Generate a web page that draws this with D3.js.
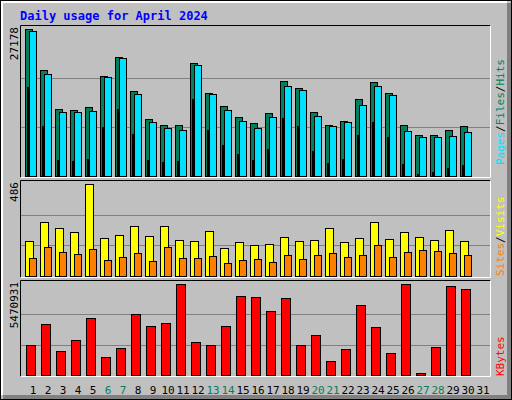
<!DOCTYPE html>
<html><head><meta charset="utf-8">
<script src="https://cdn.jsdelivr.net/npm/d3@7"></script>
<style>body{margin:0;background:#fff}svg{display:block}text{font-family:"DejaVu Sans Mono",monospace}</style>
</head><body><svg id="chart"></svg>
<script>
const days = d3.range(1, 32);
const weekends = [6, 7, 13, 14, 20, 21, 27, 28];
const hits = [27178,19543,12388,12203,12758,18490,22003,15716,10539,9430,9430,20893,15346,12943,10909,9800,11648,17565,16271,11833,9430,10169,14237,17380,15346,9430,7581,7581,8505,9245];
const files = [26810,18859,11833,11833,12018,18304,21817,15161,9984,8875,8505,20523,15161,12203,10169,8875,10909,16640,15901,11093,9245,9984,13127,16640,14976,8320,7211,7211,7396,8135];
const pages = [16455,9245,2958,2773,3143,9060,12388,7765,2958,2588,2773,14237,8505,5732,4068,2958,4992,10724,9245,4622,2404,3143,7581,9984,7211,2219,370,740,1479,2034];
const visits = [183,283,252,231,486,199,215,262,209,262,188,183,236,146,178,162,167,204,183,188,252,178,199,283,194,231,204,188,241,183];
const sites = [93,151,125,114,141,83,99,120,77,151,93,93,104,67,83,88,72,109,88,109,120,99,109,162,99,125,136,130,120,109];
const kbytes = [1803600,3066100,1442900,2104200,3426800,1082200,1623200,3667300,2945900,3126200,5470931,1984000,1803600,2945900,4749500,4689400,3847700,4629200,1803600,2404800,841700,1563100,4208400,2885800,1322600,5470931,120200,1683400,5350700,5170300];

const W = 512, H = 400;
const svg = d3.select('#chart').attr('width', W).attr('height', H);

// frame with bevel
svg.append('rect').attr('width', W).attr('height', H).attr('fill', '#c0c0c0');
svg.append('rect').attr('x', 0.5).attr('y', 0.5).attr('width', W - 1).attr('height', H - 1).attr('fill', 'none').attr('stroke', '#000');
svg.append('path').attr('d', `M${W - 3},3V${H - 3}H3`).attr('fill', 'none').attr('stroke', '#808080').attr('stroke-width', 4);
svg.append('path').attr('d', `M2,${H - 5}V2H${W - 5}`).attr('fill', 'none').attr('stroke', '#fff').attr('stroke-width', 2);

svg.append('text').attr('x', 20).attr('y', 20).attr('fill', '#0000ff')
  .attr('font-size', 12).attr('font-weight', 'bold').text('Daily usage for April 2024');

const x = d3.scaleLinear().domain([1, 32]).range([25, 25 + 31 * 15]);
const left = 20, right = 490;

const panels = [
  { top: 25, bottom: 177, max: 27178, label: '27178' },
  { top: 180, bottom: 277, max: 486, label: '486' },
  { top: 280, bottom: 376, max: 5470931, label: '5470931' }
];
panels.forEach(p => {
  const plotTop = p.bottom - (p.bottom - p.top - 5);
  p.y = d3.scaleLinear().domain([0, p.max]).range([p.bottom - 1, p.top + 4]);
  const g = svg.append('g');
  g.append('path').attr('d', `M${left + 0.5},${p.bottom + 0.5}V${p.top + 0.5}H${right + 0.5}`).attr('fill', 'none').attr('stroke', '#000');
  g.append('path').attr('d', `M${left + 0.5},${p.bottom + 0.5}H${right + 0.5}V${p.top + 0.5}`).attr('fill', 'none').attr('stroke', '#fff');
  [1 / 3, 2 / 3].forEach(f => {
    const yy = Math.round(p.y(p.max * f)) + 0.5;
    g.append('line').attr('x1', left + 1).attr('x2', right).attr('y1', yy).attr('y2', yy).attr('stroke', '#808080');
  });
  g.append('text').attr('transform', `translate(18,${p.top + 2}) rotate(-90)`).attr('text-anchor', 'end')
    .attr('font-size', 11).attr('fill', '#000').text(p.label);
});

function bars(data, panel, dx, w, color) {
  svg.append('g').selectAll('rect').data(data).join('rect')
    .attr('x', (d, i) => x(i + 1) + dx + 0.5)
    .attr('y', d => Math.round(panel.y(d)) + 0.5)
    .attr('width', w)
    .attr('height', d => Math.max(1, panel.y(0) - Math.round(panel.y(d))))
    .attr('fill', color).attr('stroke', '#000');
}
bars(hits, panels[0], 0, 7, '#00805c');
bars(files, panels[0], 4, 7, '#00e0ff');
bars(pages, panels[0], 2, 1, '#0040ff');
bars(visits, panels[1], 0, 8, '#ffff00');
bars(sites, panels[1], 4, 7, '#ff8000');
bars(kbytes, panels[2], 1, 9, '#ff0000');

svg.append('g').selectAll('text').data(days).join('text')
  .attr('x', d => x(d) + 8).attr('y', 394).attr('text-anchor', 'middle').attr('font-size', 11)
  .attr('fill', d => weekends.includes(d) ? '#00805c' : '#000').text(d => d);

function sideLabel(y, parts) {
  const t = svg.append('text').attr('transform', `translate(504,${y}) rotate(-90)`).attr('font-size', 11);
  parts.forEach(([s, c]) => t.append('tspan').attr('fill', c).text(s));
}
sideLabel(165, [['Pages', '#00e0ff'], ['/', '#000'], ['Files', '#00805c'], ['/', '#000'], ['Hits', '#00805c']]);
sideLabel(276, [['Sites', '#ff8000'], ['/', '#000'], ['Visits', '#ffff00']]);
sideLabel(376, [['KBytes', '#ff0000']]);
</script></body></html>
